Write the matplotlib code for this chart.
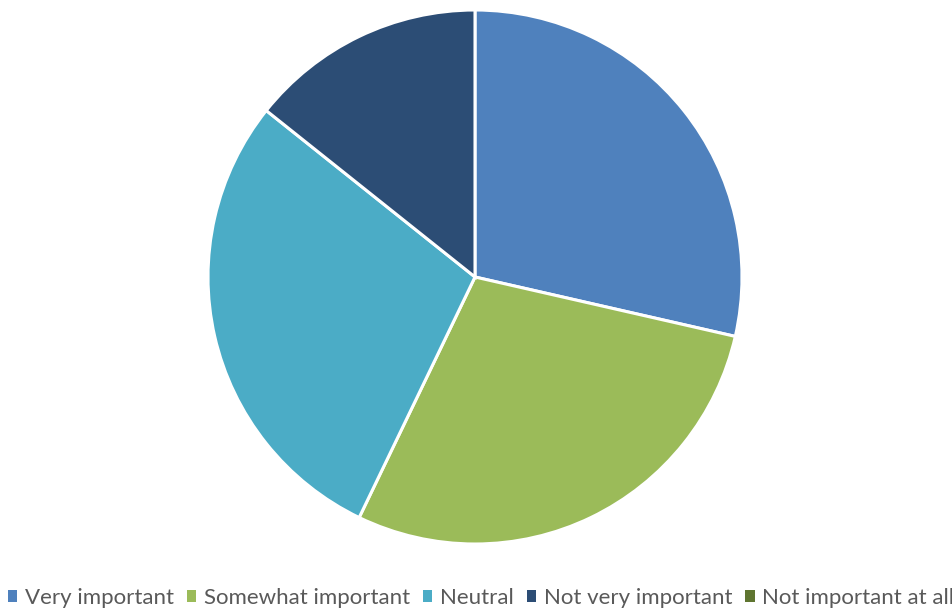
import matplotlib
matplotlib.use("Agg")
import matplotlib.pyplot as plt
from matplotlib.patches import Patch

categories = ["Very important", "Somewhat important", "Neutral", "Not very important", "Not important at all"]
values = [2, 2, 2, 1, 0]
colors = ["#4F81BD", "#9BBB59", "#4BACC6", "#2C4D75", "#5F7530"]

fig = plt.figure(figsize=(9.53, 6.08), dpi=100)
cx, cy, r = 475, 277, 267
ax = fig.add_axes([(cx - r) / 953, (608 - cy - r) / 608, 2 * r / 953, 2 * r / 608])
nz = [(v, c) for v, c in zip(values, colors) if v > 0]
ax.pie([v for v, _ in nz], colors=[c for _, c in nz], startangle=90, counterclock=False,
       radius=1, wedgeprops=dict(edgecolor="white", linewidth=2.2))
ax.set_xlim(-1.0, 1.0)
ax.set_ylim(-1.0, 1.0)
ax.set_aspect("equal")
ax.axis("off")

handles = [Patch(facecolor=c, edgecolor="none") for c in colors]
fig.legend(handles, categories, loc="center", bbox_to_anchor=(481 / 953, 10 / 608), ncol=5,
           frameon=False, prop=dict(family="Lato", size=16), labelcolor="#595959",
           handlelength=0.42, handleheight=0.42, handletextpad=0.33, columnspacing=0.6,
           borderaxespad=0, borderpad=0)
fig.savefig("out.png", dpi=100)
